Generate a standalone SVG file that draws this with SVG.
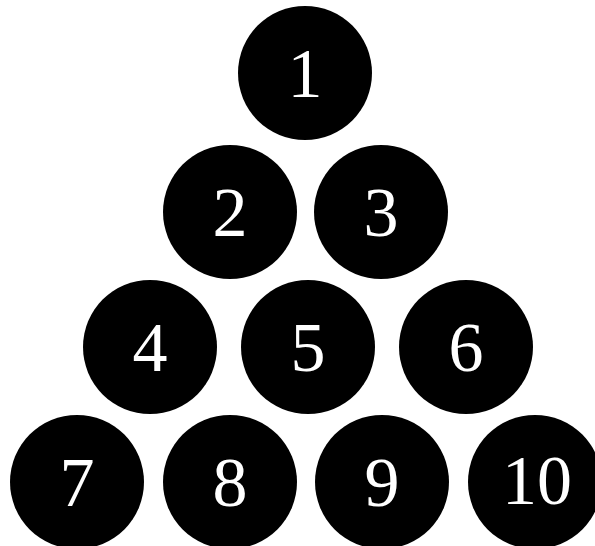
<svg xmlns="http://www.w3.org/2000/svg" width="595" height="546" viewBox="0 0 595 546">
<style>
.c{fill:#000}
.t{fill:#fff;font-family:"Liberation Serif","Times New Roman",serif;font-size:70px;text-anchor:middle}
</style>
<rect width="595" height="546" fill="#fff"/>
<g id="connectors"></g>
<g id="n1"><circle class="c" cx="305" cy="73" r="67"/><text class="t" x="305" y="97">1</text></g>
<g id="n2"><circle class="c" cx="230" cy="212" r="67"/><text class="t" x="230" y="236">2</text></g>
<g id="n3"><circle class="c" cx="381" cy="212" r="67"/><text class="t" x="381" y="236">3</text></g>
<g id="n4"><circle class="c" cx="150" cy="347" r="67"/><text class="t" x="150" y="371">4</text></g>
<g id="n5"><circle class="c" cx="308" cy="347" r="67"/><text class="t" x="308" y="371">5</text></g>
<g id="n6"><circle class="c" cx="466" cy="347" r="67"/><text class="t" x="466" y="371">6</text></g>
<g id="n7"><circle class="c" cx="77" cy="482" r="67"/><text class="t" x="77" y="506">7</text></g>
<g id="n8"><circle class="c" cx="230" cy="482" r="67"/><text class="t" x="230" y="506">8</text></g>
<g id="n9"><circle class="c" cx="382" cy="482" r="67"/><text class="t" x="382" y="506">9</text></g>
<g id="n10"><circle class="c" cx="535" cy="482" r="67"/><text class="t" x="537" y="504">10</text></g>
</svg>
